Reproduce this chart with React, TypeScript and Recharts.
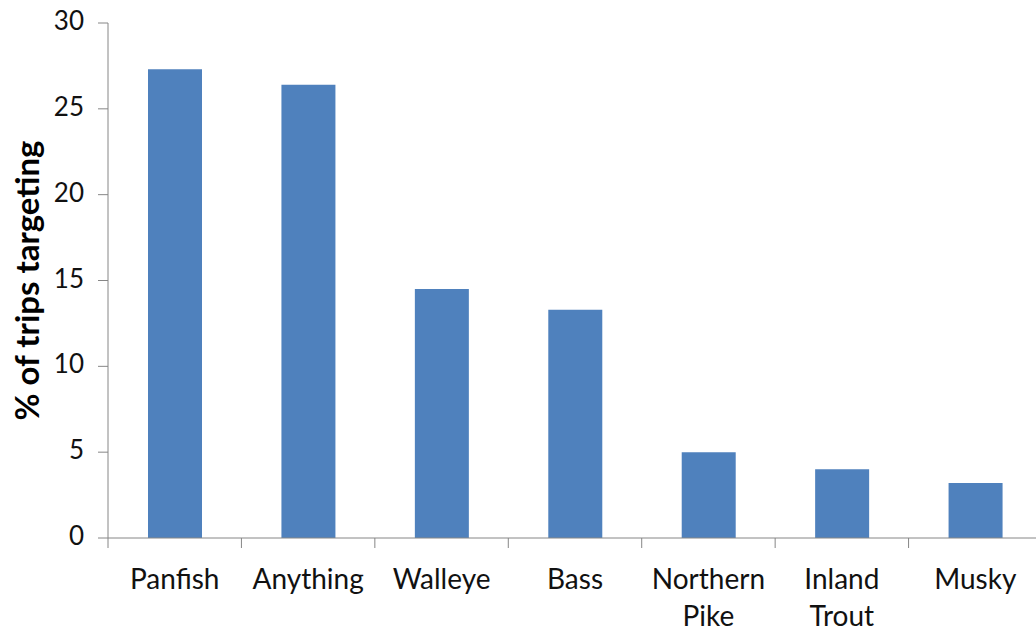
import React from "react";
import { BarChart, Bar, XAxis, YAxis } from "recharts";

// Share of fishing trips that targeted each species group
const species = ["Panfish", "Anything", "Walleye", "Bass", "Northern Pike", "Inland Trout", "Musky"];
const tripShare = [27.3, 26.4, 14.5, 13.3, 5.0, 4.0, 3.2];
const yTicks = [0, 5, 10, 15, 20, 25, 30];
const yAxisTitle = "% of trips targeting";

const data = species.map((name, i) => ({ name, share: tripShare[i] }));

const CHART_W = 1042;
const CHART_H = 632;
const Y_AXIS_W = 108;
const X_AXIS_H = 94;
const MARGIN = { top: 23, right: 0, left: 0, bottom: 0 };
const BAND = (CHART_W - Y_AXIS_W - MARGIN.left - MARGIN.right) / species.length;

const FONT = "Lato, 'Open Sans', sans-serif";
const AXIS_COLOR = "#868686";
const BAR_COLOR = "#4F81BD";

// Category label (wrapped on spaces) plus a tick mark on the left edge of the band
const CategoryTick = (props: any) => {
  const { x, y, payload } = props;
  const lines = String(payload.value).split(" ");
  const left = x - BAND / 2;
  return (
    <g>
      <line x1={left} y1={y} x2={left} y2={y + 10} stroke={AXIS_COLOR} strokeWidth={1} />
      <text x={x} y={y} textAnchor="middle" fontFamily={FONT} fontSize={28} fill="#111">
        {lines.map((ln, i) => (
          <tspan key={i} x={x} y={y + 51 + i * 37}>
            {ln}
          </tspan>
        ))}
      </text>
    </g>
  );
};

const ValueTick = (props: any) => {
  const { x, y, payload } = props;
  return (
    <text x={x} y={y} dy={7} textAnchor="end" fontFamily={FONT} fontSize={26} fill="#111">
      {payload.value}
    </text>
  );
};

const AxisTitle = (props: any) => {
  const { viewBox } = props;
  const cy = viewBox.y + viewBox.height / 2;
  const cx = 26;
  return (
    <text
      x={cx}
      y={cy}
      transform={`rotate(-90, ${cx}, ${cy})`}
      textAnchor="middle"
      dominantBaseline="central"
      fontFamily={FONT}
      fontSize={33}
      fontWeight="bold"
      fill="#000"
    >
      {yAxisTitle}
    </text>
  );
};

export default function App() {
  return (
    <div
      style={{
        position: "fixed",
        left: 0,
        top: 0,
        width: 1036,
        height: 632,
        overflow: "hidden",
        background: "#fff",
      }}
    >
      <BarChart width={CHART_W} height={CHART_H} data={data} margin={MARGIN} barSize={54}>
        <XAxis
          dataKey="name"
          height={X_AXIS_H}
          interval={0}
          tickLine={false}
          tickSize={0}
          tickMargin={0}
          axisLine={{ stroke: AXIS_COLOR, strokeWidth: 1 }}
          tick={<CategoryTick />}
        />
        <YAxis
          width={Y_AXIS_W}
          domain={[0, 30]}
          ticks={yTicks}
          interval={0}
          tickSize={10}
          tickMargin={14}
          axisLine={{ stroke: AXIS_COLOR, strokeWidth: 1 }}
          tickLine={{ stroke: AXIS_COLOR, strokeWidth: 1 }}
          tick={<ValueTick />}
          label={<AxisTitle />}
        />
        <Bar dataKey="share" fill={BAR_COLOR} isAnimationActive={false} />
      </BarChart>
    </div>
  );
}
